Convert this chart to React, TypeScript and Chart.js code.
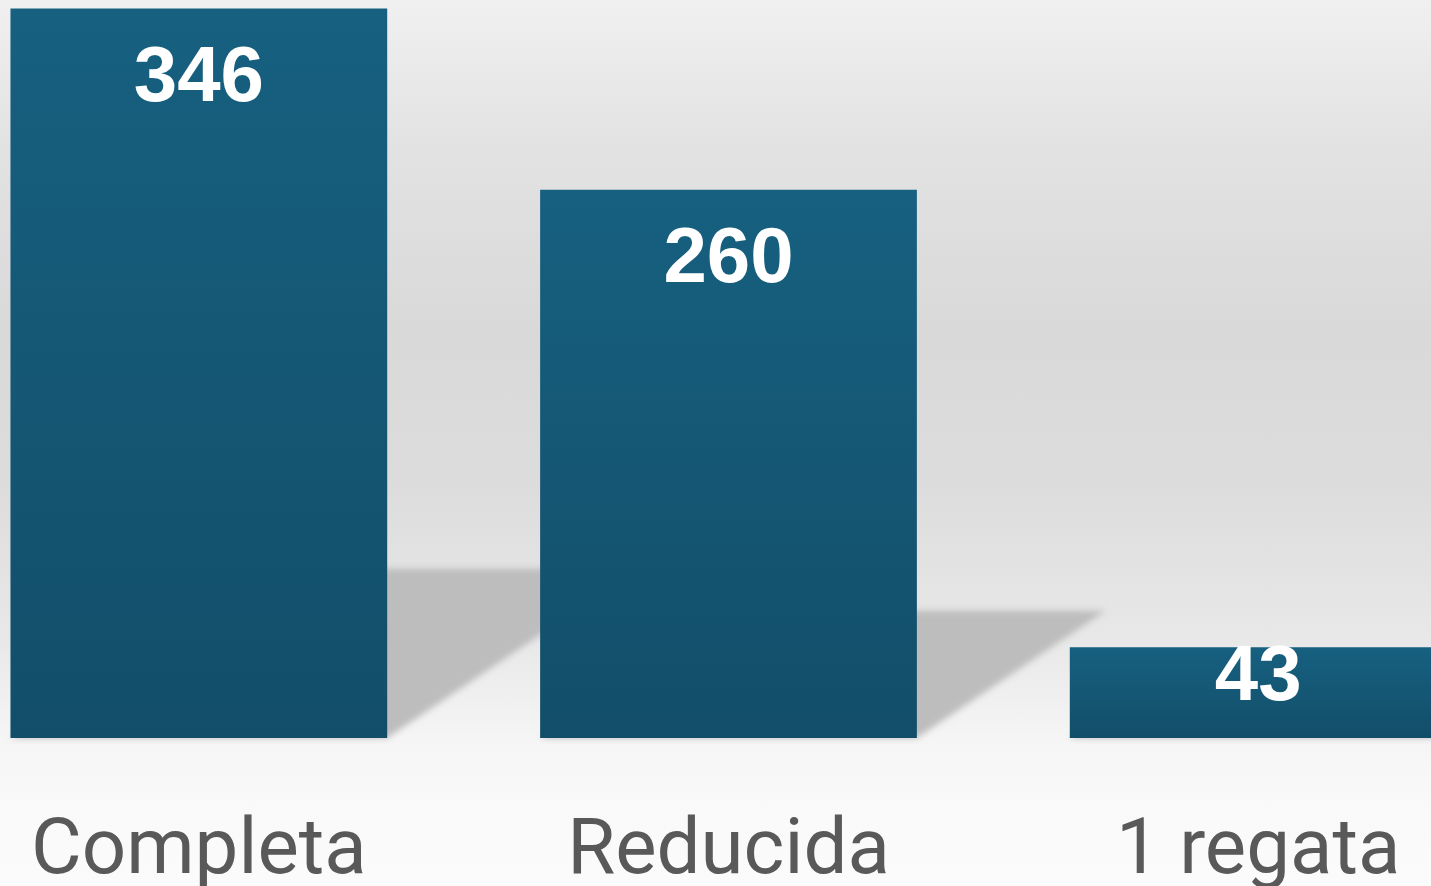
import React, { useEffect, useRef } from "react";
import { Chart, registerables } from "chart.js";

Chart.register(...registerables);

const categories = ["Completa", "Reducida", "1 regata"];
const values = [346, 260, 43];
const yMax = 350;

const shadowPlugin = {
  id: "perspectiveShadow",
  beforeDatasetsDraw(chart: any) {
    const ctx = chart.ctx;
    const meta = chart.getDatasetMeta(0);
    ctx.save();
    ctx.filter = "blur(3px)";
    ctx.fillStyle = "#bdbdbd";
    meta.data.forEach((bar: any) => {
      const { x, y, base, width } = bar.getProps(["x", "y", "base", "width"], true);
      const h = base - y;
      const sh = h * 0.232;
      const dx = sh / 0.674;
      const x0 = x - width / 2;
      const x1 = x + width / 2;
      ctx.beginPath();
      ctx.moveTo(x0, base);
      ctx.lineTo(x1, base);
      ctx.lineTo(x1 + dx, base - sh);
      ctx.lineTo(x0 + dx, base - sh);
      ctx.closePath();
      ctx.fill();
    });
    ctx.restore();
  },
};

const valueLabelPlugin = {
  id: "valueLabels",
  afterDatasetsDraw(chart: any) {
    const ctx = chart.ctx;
    const meta = chart.getDatasetMeta(0);
    ctx.save();
    ctx.fillStyle = "#ffffff";
    ctx.font = "bold 78px 'Liberation Sans', Arial, sans-serif";
    ctx.textAlign = "center";
    ctx.textBaseline = "middle";
    meta.data.forEach((bar: any, i: number) => {
      const { x, y, base } = bar.getProps(["x", "y", "base"], true);
      const h = base - y;
      const cy = y + Math.min(68, h * 0.31);
      ctx.fillText(String(values[i]), x, cy + 3);
    });
    ctx.restore();
  },
};

export default function App() {
  const ref = useRef<HTMLCanvasElement>(null);
  useEffect(() => {
    if (!ref.current) return;
    const chart = new Chart(ref.current, {
      type: "bar",
      data: {
        labels: categories,
        datasets: [
          {
            data: values,
            categoryPercentage: 1,
            barPercentage: 0.7113,
            borderWidth: 0,
            backgroundColor: (c: any) => {
              const ch = c.chart;
              const ys = ch.scales?.y;
              if (!ys || c.dataIndex === undefined) return "#155a78";
              const top = ys.getPixelForValue(values[c.dataIndex]);
              const bot = ys.getPixelForValue(0);
              if (!isFinite(top) || !isFinite(bot) || bot - top < 1) return "#155a78";
              const g = ch.ctx.createLinearGradient(0, top, 0, bot);
              g.addColorStop(0, "#176080");
              g.addColorStop(1, "#124e69");
              return g;
            },
          },
        ],
      },
      options: {
        responsive: false,
        animation: false,
        devicePixelRatio: 1,
        layout: { padding: 0 },
        plugins: {
          legend: { display: false },
          tooltip: { enabled: false },
          title: { display: false },
        },
        scales: {
          y: {
            display: false,
            min: 0,
            max: yMax,
          },
          x: {
            grid: { display: false, drawTicks: false },
            border: { display: false },
            ticks: {
              color: "#595959",
              font: { family: "Roboto, 'Noto Sans', sans-serif", size: 78 },
              padding: 69,
              maxRotation: 0,
              autoSkip: false,
            },
            afterFit: (scale: any) => {
              scale.height = 148;
            },
          },
        },
      },
      plugins: [shadowPlugin, valueLabelPlugin],
    });
    return () => chart.destroy();
  }, []);

  return (
    <div
      style={{
        position: "fixed",
        left: 0,
        top: 0,
        width: 1431,
        height: 886,
        overflow: "hidden",
        background:
          "linear-gradient(to bottom, #f0f0f0 0px, #e2e2e2 150px, #d9d9d9 330px, #dcdcdc 480px, #e8e8e8 640px, #f5f5f5 738px, #f9f9f9 800px, #fbfbfb 886px)",
      }}
    >
      <canvas
        ref={ref}
        width={1589}
        height={886}
        style={{ position: "absolute", left: -66, top: 0, width: 1589, height: 886 }}
      />
    </div>
  );
}
